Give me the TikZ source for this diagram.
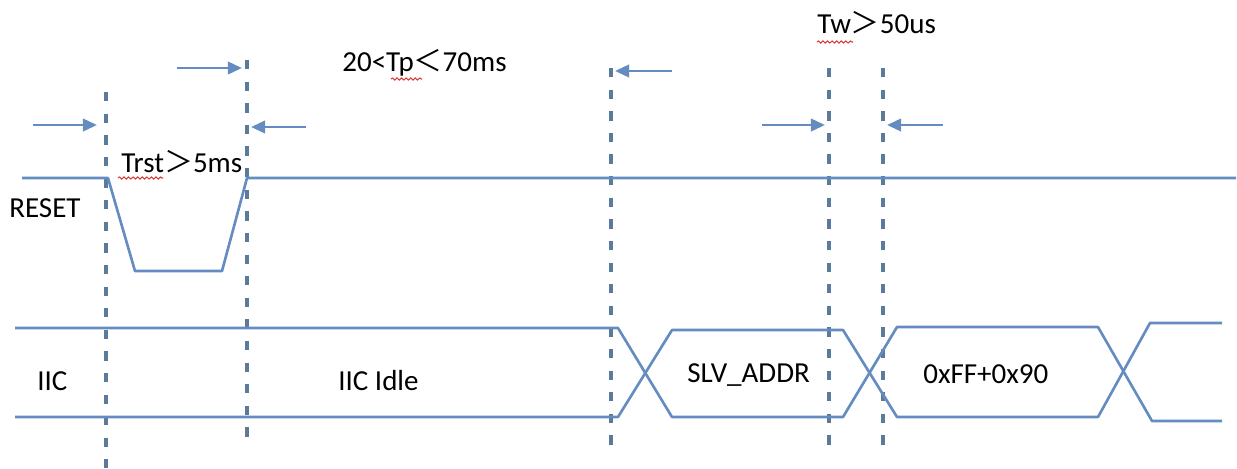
\documentclass[tikz,border=0pt]{standalone}
\usepackage{fontspec}
\setmainfont{Carlito}
\newfontfamily\cjk{Noto Sans CJK SC}
\usetikzlibrary{arrows.meta,decorations.pathmorphing}

\definecolor{sigblue}{RGB}{100,140,192}
\definecolor{tickgray}{RGB}{92,122,154}
\definecolor{spellred}{RGB}{214,60,60}

\tikzset{
  sigline/.style={line width=1.5pt, sigblue, line join=round},
  tickline/.style={line width=2pt, tickgray, dash pattern=on 5.3pt off 7pt},
  timearrow/.style={line width=1.6pt, sigblue, -{Triangle[length=8pt,width=7pt]}},
  lbl/.style={inner sep=0pt, anchor=base west, font=\fontsize{16.5}{19}\selectfont},
  spell/.style={spellred, line width=0.6pt, decorate,
    decoration={snake, amplitude=0.6pt, segment length=2.6pt}}
}

\begin{document}
\begin{tikzpicture}[x=0.02cm, y=-0.02cm]
    \useasboundingbox (0,0) rectangle (1237,468);

    % Time marks
    \draw[tickline] (106,92) -- (106,468);
    \draw[tickline] (247,60) -- (247,440);
    \draw[tickline] (611,68) -- (611,445);
    \draw[tickline] (829,68) -- (829,445);
    \draw[tickline] (883,68) -- (883,445);

    % RESET signal
    \draw[sigline] (22,178) -- (108,178) -- (135,271) -- (222,271) -- (247,178) -- (1236,178);

    % IIC bus
    \draw[sigline] (15,328) -- (618,328) -- (672,417) -- (843,417) -- (897,327)
      -- (1098,327) -- (1152,421) -- (1222,421);
    \draw[sigline] (15,417) -- (618,417) -- (672,330) -- (843,330) -- (897,417)
      -- (1098,417) -- (1150,323) -- (1222,323);

    % Arrow ends
    \coordinate (rstL0) at (33,125);   \coordinate (rstL1) at (97,125);
    \coordinate (rstR0) at (306,127);  \coordinate (rstR1) at (251,127);
    \coordinate (tpL0) at (177,68);    \coordinate (tpL1) at (242,68);
    \coordinate (tpR0) at (672,71);    \coordinate (tpR1) at (615,71);
    \coordinate (twL0) at (762,125);   \coordinate (twL1) at (825,125);
    \coordinate (twR0) at (943,125);   \coordinate (twR1) at (887,125);

    % Arrows
    \draw[timearrow] (rstL0) -- (rstL1);
    \draw[timearrow] (rstR0) -- (rstR1);
    \draw[timearrow] (tpL0) -- (tpL1);
    \draw[timearrow] (tpR0) -- (tpR1);
    \draw[timearrow] (twL0) -- (twL1);
    \draw[timearrow] (twR0) -- (twR1);

    % Labels
    \node[lbl] (reset) at (9,217) {RESET};
    \node[lbl] (iic) at (37,390) {IIC};
    \node[lbl] (idle) at (338,390) {IIC Idle};
    \node[lbl] (slv) at (687,382) {SLV\_ADDR};
    \node[lbl] (data) at (923,383) {0xFF+0x90};
    \node[lbl] (trst) at (121,172) {Trst{\cjk ＞}5ms};
    \node[lbl] (tp) at (342,71) {20<Tp{\cjk ＜}70ms};
    \node[lbl] (tw) at (817,33) {Tw{\cjk ＞}50us};

    % Spell check marks
    \draw[spell] (118,178) -- (163,178);
    \draw[spell] (391,79) -- (422,79);
    \draw[spell] (817,42) -- (853,42);
  \end{tikzpicture}
\end{document}
